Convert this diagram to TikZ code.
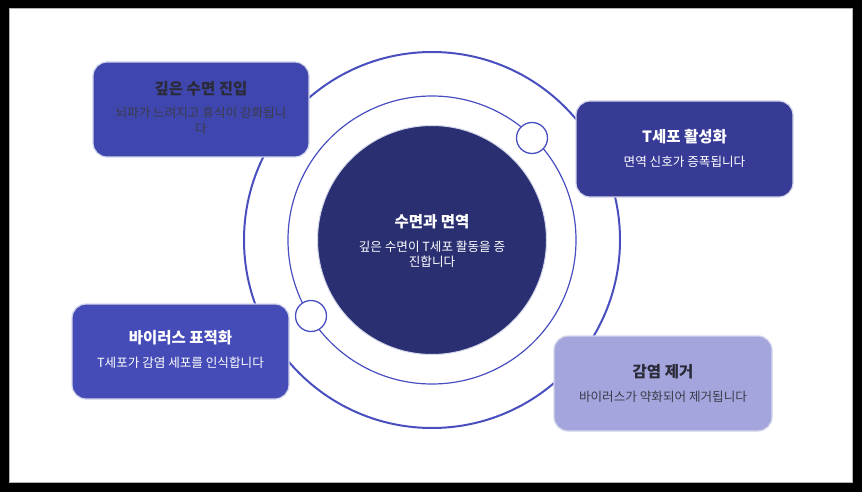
\documentclass[tikz,border=0pt]{standalone}
\usepackage{fontspec}
\setmainfont{Noto Sans CJK KR}
\newfontfamily\krfont{Noto Sans CJK KR}
\begin{document}
\begin{tikzpicture}[x=1pt,y=-1pt,
  ringline/.style={draw=ringblue},
  card/.style={draw=cardedge, line width=1.2pt, rounded corners=14pt},
  ttl/.style={font=\krfont\bfseries\fontsize{15.5}{18}\selectfont, align=center},
  sub/.style={font=\krfont\fontsize{12.6}{15.5}\selectfont, align=center},
  dot/.style={circle, draw=ringblue, line width=1.3pt, fill=white, minimum size=31pt, inner sep=0pt}]
\definecolor{ringblue}{HTML}{4A4FC0}
\definecolor{cardedge}{HTML}{D4D6EA}
\definecolor{cA}{HTML}{3F46AD}
\definecolor{cB}{HTML}{373B96}
\definecolor{cC}{HTML}{454CB8}
\definecolor{cD}{HTML}{A3A5DC}
\definecolor{core}{HTML}{2A2F72}
\definecolor{darktxt}{HTML}{2A2A38}
\definecolor{midtxt}{HTML}{3C3C4C}
% frame
\fill[black] (0,0) rectangle (862,492);
\fill[white, draw=gray!60, line width=1pt] (9,9) rectangle (852,482);
\useasboundingbox (0,0) rectangle (862,492);
% rings
\coordinate (ctr) at (432,240);
\draw[ringline, line width=2pt] (ctr) circle[radius=188];
\draw[ringline, line width=1.2pt] (ctr) circle[radius=144];
\node[circle, fill=core, draw=cardedge, line width=1pt, minimum size=229pt, inner sep=0pt] (hub) at (ctr) {};
\node[font=\krfont\bfseries\fontsize{15.5}{18}\selectfont, text=white] (hubt) at (432,222) {수면과 면역};
\node[font=\krfont\fontsize{12.6}{15}\selectfont, text=white, align=center] (hubs) at (432,254) {깊은 수면이 T세포 활동을 증\\진합니다};
\node[dot] (d1) at (532,138) {};
\node[dot] (d2) at (311,316) {};
% cards
\path[card, fill=cA] (93,62) rectangle (309,157);
\node[ttl, text=darktxt] (t1) at (201,89) {깊은 수면 진입};
\node[sub, text=midtxt] (s1) at (201,121) {뇌파가 느려지고 휴식이 강화됩니\\다};
\path[card, fill=cB] (576,101) rectangle (793,197);
\node[ttl, text=white] (t2) at (684.5,137) {T세포 활성화};
\node[sub, text=white] (s2) at (684.5,162) {면역 신호가 증폭됩니다};
\path[card, fill=cC] (72,304) rectangle (289,399);
\node[ttl, text=white] (t3) at (180.5,338) {바이러스 표적화};
\node[sub, text=white] (s3) at (180.5,363) {T세포가 감염 세포를 인식합니다};
\path[card, fill=cD] (554,336) rectangle (772,431);
\node[ttl, text=darktxt] (t4) at (663,372) {감염 제거};
\node[sub, text=midtxt] (s4) at (663,397) {바이러스가 약화되어 제거됩니다};
\end{tikzpicture}
\end{document}
